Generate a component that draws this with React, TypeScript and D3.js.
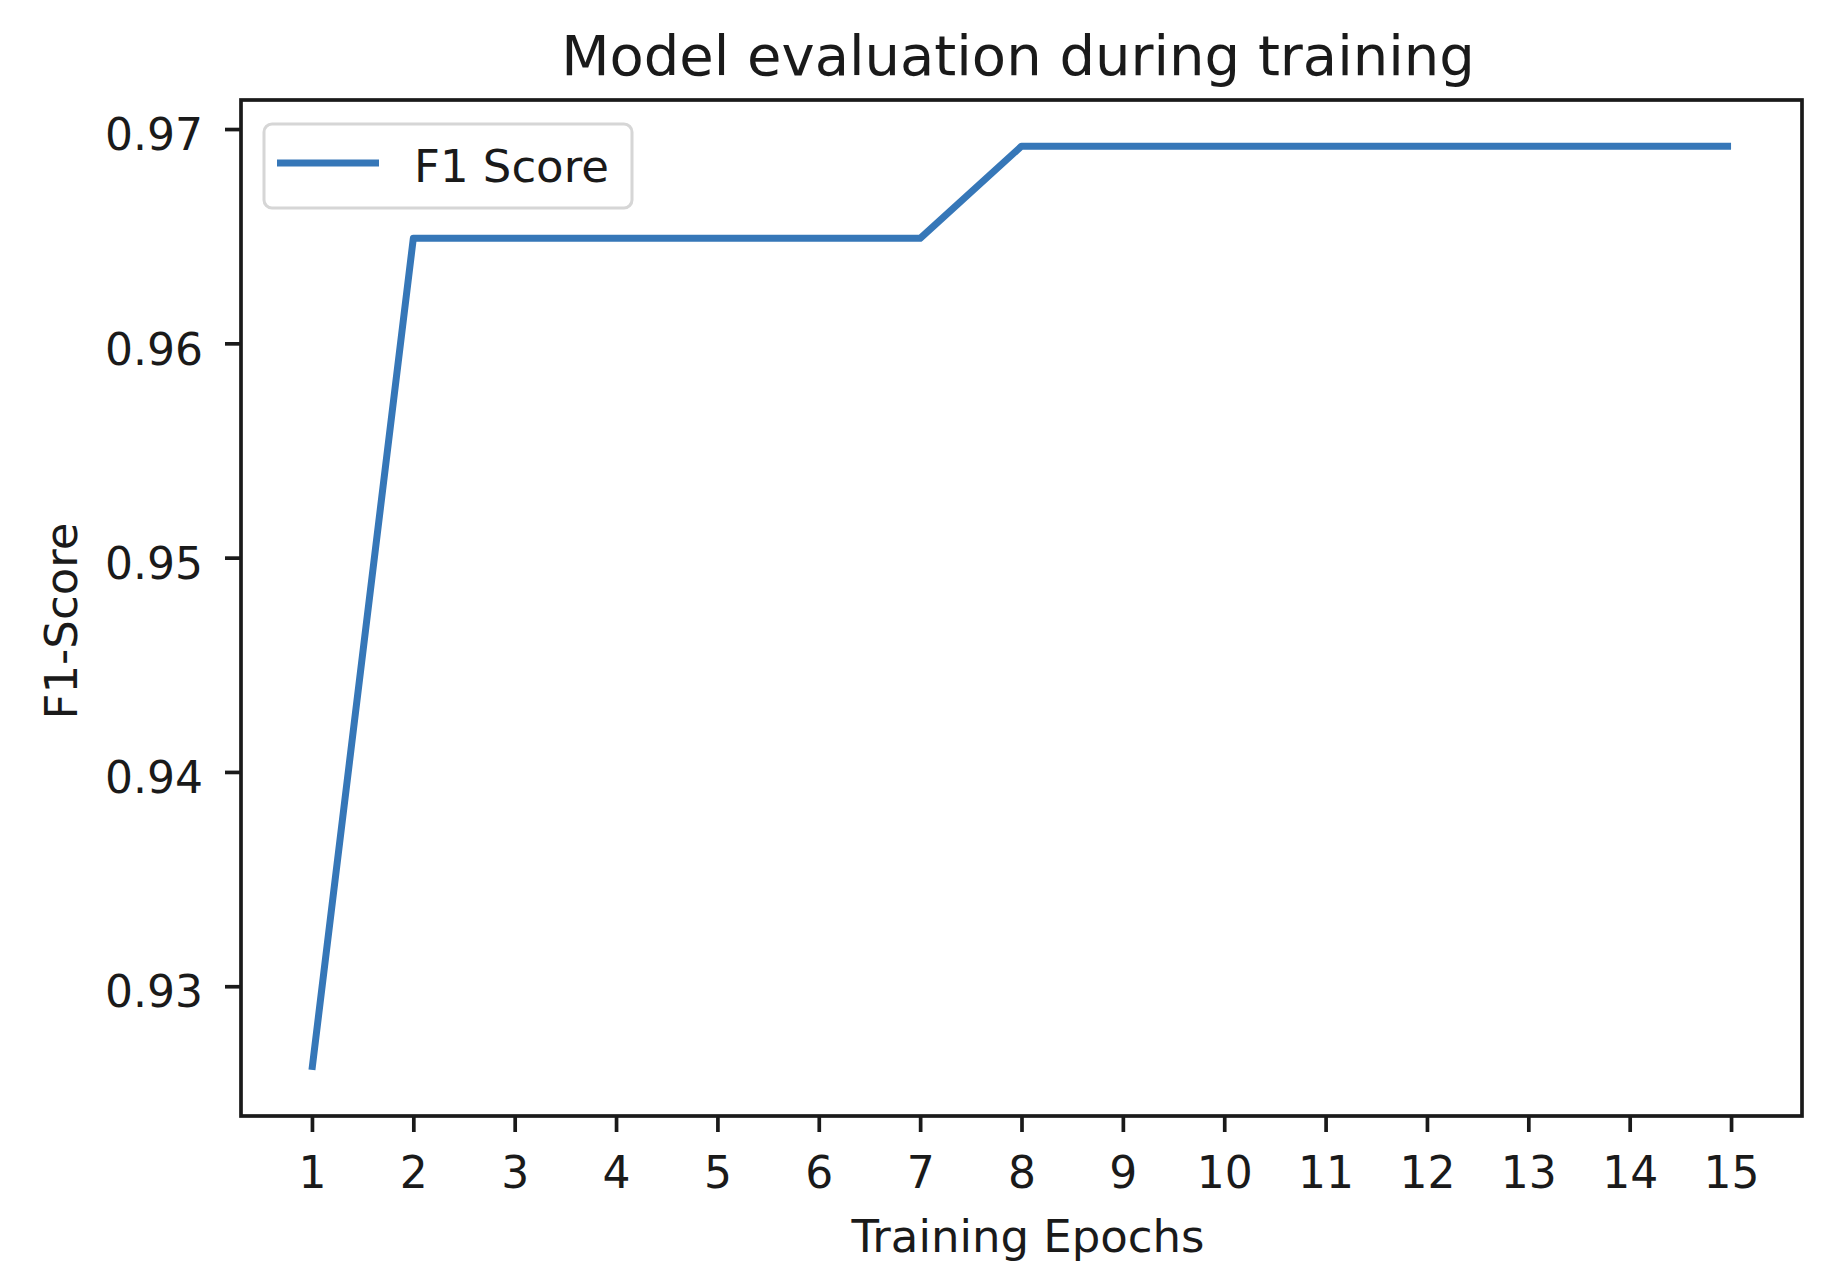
import * as d3 from "d3";
import { useEffect, useRef } from "react";

const epochs = [1, 2, 3, 4, 5, 6, 7, 8, 9, 10, 11, 12, 13, 14, 15];
const f1Scores = [
    0.9261, 0.9649, 0.9649, 0.9649, 0.9649, 0.9649, 0.9649, 0.9692, 0.9692,
    0.9692, 0.9692, 0.9692, 0.9692, 0.9692, 0.9692,
];
const yTicks = [0.93, 0.94, 0.95, 0.96, 0.97];
const seriesName = "F1 Score";
const titleText = "Model evaluation during training";
const xLabel = "Training Epochs";
const yLabel = "F1-Score";

export default function App() {
    const svgRef = useRef<SVGSVGElement | null>(null);

    useEffect(() => {
        if (!svgRef.current) return;
        const svg = d3.select(svgRef.current);
        svg.selectAll("*").remove();

        const totalW = 1842;
        const totalH = 1272;
        const left = 241;
        const right = 1802;
        const top = 100;
        const bottom = 1116;
        const font = "DejaVu Sans, sans-serif";
        const ink = "#1a1a1a";

        svg.attr("width", totalW).attr("height", totalH);

        // matplotlib style 5% margins
        const [x0, x1] = d3.extent(epochs) as [number, number];
        const xPad = (x1 - x0) * 0.05;
        const [y0, y1] = d3.extent(f1Scores) as [number, number];
        const yPad = (y1 - y0) * 0.05;

        const x = d3.scaleLinear().domain([x0 - xPad, x1 + xPad]).range([left, right]);
        const y = d3.scaleLinear().domain([y0 - yPad, y1 + yPad]).range([bottom, top]);

        const line = d3
            .line<number>()
            .x((d, i) => x(epochs[i]))
            .y((d) => y(d));

        svg.append("path")
            .datum(f1Scores)
            .attr("fill", "none")
            .attr("stroke", "#3677b8")
            .attr("stroke-width", 7)
            .attr("stroke-linejoin", "round")
            .attr("d", line);

        // x axis
        const gx = svg
            .append("g")
            .attr("transform", `translate(0,${bottom})`)
            .call(d3.axisBottom(x).tickValues(epochs).tickSize(16).tickFormat(d3.format("d")));
        gx.select(".domain").remove();
        gx.selectAll(".tick line").attr("stroke", ink).attr("stroke-width", 3.7);
        gx.selectAll(".tick text")
            .attr("y", 72)
            .attr("dy", null)
            .attr("fill", ink)
            .style("font-family", font)
            .style("font-size", "44px");

        // y axis
        const gy = svg
            .append("g")
            .attr("transform", `translate(${left},0)`)
            .call(d3.axisLeft(y).tickValues(yTicks).tickSize(16).tickPadding(22).tickFormat(d3.format(".2f")));
        gy.select(".domain").remove();
        gy.selectAll(".tick line").attr("stroke", ink).attr("stroke-width", 3.7);
        gy.selectAll(".tick text")
            .attr("dy", "0.47em")
            .attr("fill", ink)
            .style("font-family", font)
            .style("font-size", "44px");

        // frame
        svg.append("rect")
            .attr("x", left)
            .attr("y", top)
            .attr("width", right - left)
            .attr("height", bottom - top)
            .attr("fill", "none")
            .attr("stroke", ink)
            .attr("stroke-width", 3.7);

        // legend
        const lg = svg.append("g");
        lg.append("rect")
            .attr("x", 264)
            .attr("y", 124)
            .attr("width", 368)
            .attr("height", 84)
            .attr("rx", 8)
            .attr("fill", "white")
            .attr("fill-opacity", 0.8)
            .attr("stroke", "#d6d6d6")
            .attr("stroke-width", 3);
        lg.append("line")
            .attr("x1", 277)
            .attr("x2", 379)
            .attr("y1", 163)
            .attr("y2", 163)
            .attr("stroke", "#3677b8")
            .attr("stroke-width", 7);
        lg.append("text")
            .attr("x", 414)
            .attr("y", 182)
            .attr("fill", ink)
            .style("font-family", font)
            .style("font-size", "45px")
            .text(seriesName);

        svg.append("text")
            .attr("x", 1018)
            .attr("y", 75)
            .attr("text-anchor", "middle")
            .attr("fill", ink)
            .style("font-family", font)
            .style("font-size", "56px")
            .text(titleText);

        svg.append("text")
            .attr("x", 1028)
            .attr("y", 1252)
            .attr("text-anchor", "middle")
            .attr("fill", ink)
            .style("font-family", font)
            .style("font-size", "45px")
            .text(xLabel);

        svg.append("text")
            .attr("transform", "translate(77,621) rotate(-90)")
            .attr("text-anchor", "middle")
            .attr("fill", ink)
            .style("font-family", font)
            .style("font-size", "45px")
            .text(yLabel);
    }, []);

    return (
        <svg
            ref={svgRef}
            style={{ position: "absolute", left: 0, top: 0, display: "block", background: "white" }}
        />
    );
}
